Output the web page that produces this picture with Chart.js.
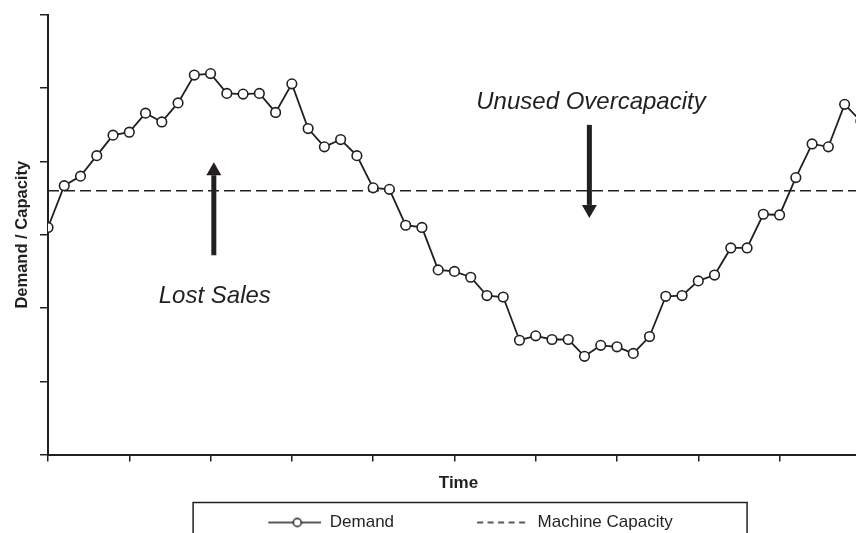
<!DOCTYPE html>
<html>
<head>
<meta charset="utf-8">
<script src="https://cdn.jsdelivr.net/npm/chart.js@4.4.1/dist/chart.umd.min.js"></script>
<style>
  html, body { margin: 0; padding: 0; background: #fff; overflow: hidden; }
  #wrap { width: 856px; height: 533px; overflow: hidden; }
  canvas { display: block; }
</style>
</head>
<body>
<div id="wrap"><canvas id="chart" width="869" height="541"></canvas></div>
<script>
// time periods (x) and the demand
const periods = [0, 1, 2, 3, 4, 5, 6, 7, 8, 9, 10, 11, 12, 13, 14, 15, 16, 17, 18, 19, 20,
  21, 22, 23, 24, 25, 26, 27, 28, 29, 30, 31, 32, 33, 34, 35, 36, 37, 38, 39, 40,
  41, 42, 43, 44, 45, 46, 47, 48, 49, 50];
const demand = [3.10, 3.67, 3.80, 4.08, 4.36, 4.40, 4.66, 4.54, 4.80, 5.18, 5.20,
  4.93, 4.92, 4.93, 4.67, 5.06, 4.45, 4.20, 4.30, 4.08, 3.64,
  3.62, 3.13, 3.10, 2.52, 2.50, 2.42, 2.17, 2.15, 1.56, 1.62,
  1.57, 1.57, 1.34, 1.49, 1.47, 1.38, 1.61, 2.16, 2.17, 2.37,
  2.45, 2.82, 2.82, 3.28, 3.27, 3.78, 4.24, 4.20, 4.78, 4.55];
const capacity = 3.6;

const xMax = 50.5;
const yMin = 0, yMax = 6;

// annotations (data coordinates)
const notes = [
  { text: 'Lost Sales', x: 10.26, y: 2.16 },
  { text: 'Unused Overcapacity', x: 33.4, y: 4.81 }
];
const arrows = [
  { x: 10.2, from: 2.72, to: 3.99 },
  { x: 33.3, from: 4.50, to: 3.23 }
];

const INK = '#231f20';
const FONT = "'Liberation Sans', Arial, Helvetica, sans-serif";
Chart.defaults.font.family = FONT;
Chart.defaults.color = INK;

// little pictures for the legend: line with circle, and dashes
function legendIcon(kind) {
  const c = document.createElement('canvas');
  c.width = 125;
  c.height = 14;
  const g = c.getContext('2d');
  g.strokeStyle = INK;
  g.lineWidth = 1.5;
  if (kind === 'demand') {
    g.beginPath(); g.moveTo(72, 7); g.lineTo(125, 7); g.stroke();
    g.beginPath(); g.arc(101, 7, 4, 0, Math.PI * 2);
    g.fillStyle = '#fff'; g.fill(); g.stroke();
  } else {
    g.lineWidth = 1.3;
    g.setLineDash([6, 4.5]);
    g.beginPath(); g.moveTo(73, 7); g.lineTo(121, 7); g.stroke();
  }
  return c;
}

// frame round the legend
const legendFrame = {
  id: 'legendFrame',
  afterDraw(chart) {
    const hb = chart.legend && chart.legend.legendHitBoxes;
    if (!hb || !hb.length) return;
    const ctx = chart.ctx;
    const last = hb[hb.length - 1];
    const left = hb[0].left - 3.2;
    const right = last.left + last.width + 74.4;
    const top = chart.legend.top - 1.5;
    ctx.save();
    ctx.strokeStyle = INK;
    ctx.lineWidth = 1.5;
    ctx.strokeRect(left, top, right - left, chart.height);
    ctx.restore();
  }
};

// arrows and italic captions
const notesPlugin = {
  id: 'notes',
  afterDatasetsDraw(chart) {
    const { ctx, scales: { x, y } } = chart;
    ctx.save();
    ctx.fillStyle = INK;
    arrows.forEach(a => {
      const px = x.getPixelForValue(a.x);
      const y0 = y.getPixelForValue(a.from);
      const y1 = y.getPixelForValue(a.to);
      const dir = Math.sign(y1 - y0);
      const yb = y1 - dir * 13;
      ctx.fillRect(px - 2.5, Math.min(y0, yb), 5, Math.abs(yb - y0));
      ctx.beginPath();
      ctx.moveTo(px, y1);
      ctx.lineTo(px - 7.5, yb);
      ctx.lineTo(px + 7.5, yb);
      ctx.closePath();
      ctx.fill();
    });
    ctx.font = 'italic 24px ' + FONT;
    ctx.textAlign = 'center';
    ctx.textBaseline = 'middle';
    notes.forEach(n => ctx.fillText(n.text, x.getPixelForValue(n.x), y.getPixelForValue(n.y)));
    ctx.restore();
  }
};

new Chart(document.getElementById('chart'), {
  type: 'line',
  data: {
    datasets: [
      {
        label: 'Demand',
        data: periods.map((p, i) => ({ x: p, y: demand[i] })),
        borderColor: INK,
        borderWidth: 1.8,
        pointRadius: 4.8,
        pointBorderWidth: 1.6,
        pointBackgroundColor: '#fff',
        pointBorderColor: INK,
        tension: 0
      },
      {
        label: 'Machine Capacity',
        data: [{ x: periods[0], y: capacity }, { x: xMax, y: capacity }],
        borderColor: INK,
        borderWidth: 1.5,
        borderDash: [11, 5],
        pointRadius: 0
      }
    ]
  },
  options: {
    responsive: false,
    animation: false,
    layout: { autoPadding: false, padding: { top: 15, left: 0, right: 0, bottom: 0 } },
    plugins: {
      tooltip: { enabled: false },
      legend: {
        position: 'bottom',
        labels: {
          usePointStyle: true,
          pointStyleWidth: 125,
          padding: 10,
          font: { size: 17 },
          color: INK,
          generateLabels: () => [
            { text: 'Demand', pointStyle: legendIcon('demand'), fontColor: INK, fillStyle: '#fff', strokeStyle: INK, lineWidth: 0, hidden: false, datasetIndex: 0 },
            { text: 'Machine Capacity', pointStyle: legendIcon('capacity'), fontColor: INK, fillStyle: '#fff', strokeStyle: INK, lineWidth: 0, hidden: false, datasetIndex: 1 }
          ]
        }
      }
    },
    scales: {
      x: {
        type: 'linear',
        min: 0,
        max: xMax,
        grid: { drawOnChartArea: false, color: INK, lineWidth: 1.5, tickLength: 7 },
        border: { color: INK, width: 2 },
        ticks: { display: false, stepSize: 5, includeBounds: false },
        title: {
          display: true, text: 'Time', color: INK,
          font: { size: 17, weight: 'bold' },
          padding: { top: 11.8, bottom: 10.3 }
        }
      },
      y: {
        min: yMin,
        max: yMax,
        grid: { drawOnChartArea: false, color: INK, lineWidth: 1.5, tickLength: 8 },
        border: { color: INK, width: 2 },
        ticks: { display: false, stepSize: 1 },
        title: {
          display: true, text: 'Demand / Capacity', color: INK,
          font: { size: 16.5, weight: 'bold' },
          padding: { top: 12.1, bottom: 8.1 }
        },
        afterFit: s => { s.width = 48; }
      }
    }
  },
  plugins: [notesPlugin, legendFrame]
});
</script>
</body>
</html>
